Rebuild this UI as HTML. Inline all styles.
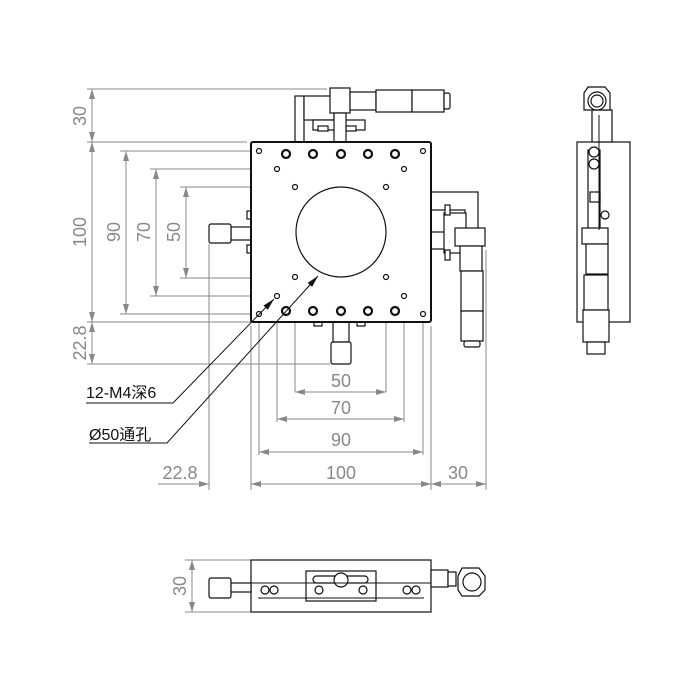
<!DOCTYPE html>
<html><head><meta charset="utf-8"><style>
html,body{margin:0;padding:0;background:#fff;}
svg{display:block;}
.d{stroke:#888;stroke-width:1;fill:none}
.t{font-family:"Liberation Sans","Noto Sans CJK SC",sans-serif;fill:#888;font-size:18px}
.k{stroke:#111;fill:#fff;stroke-width:1.2}
</style></head><body>
<svg width="700" height="700" viewBox="0 0 700 700" xmlns="http://www.w3.org/2000/svg">
<defs>
<marker id="a" viewBox="0 0 10 6" refX="10" refY="3" markerWidth="16" markerHeight="6" orient="auto-start-reverse" markerUnits="userSpaceOnUse"><path d="M0,0L10,3L0,6z" fill="#888"/></marker>
</defs>
<g class="d">
<line x1="87" y1="89" x2="327" y2="89"/>
<line x1="87" y1="142" x2="247" y2="142"/>
<line x1="120" y1="151" x2="255" y2="151"/>
<line x1="150" y1="169" x2="273" y2="169"/>
<line x1="180" y1="187" x2="291" y2="187"/>
<line x1="180" y1="278" x2="291" y2="278"/>
<line x1="150" y1="296" x2="273" y2="296"/>
<line x1="120" y1="314" x2="255" y2="314"/>
<line x1="87" y1="322" x2="251" y2="322"/>
<line x1="87" y1="364" x2="330" y2="364"/>
<line x1="92" y1="89" x2="92" y2="142" marker-start="url(#a)" marker-end="url(#a)"/>
<line x1="92" y1="142" x2="92" y2="322" marker-start="url(#a)" marker-end="url(#a)"/>
<line x1="92" y1="322" x2="92" y2="364" marker-start="url(#a)" marker-end="url(#a)"/>
<line x1="126" y1="151" x2="126" y2="314" marker-start="url(#a)" marker-end="url(#a)"/>
<line x1="156" y1="169" x2="156" y2="296" marker-start="url(#a)" marker-end="url(#a)"/>
<line x1="186" y1="187" x2="186" y2="278" marker-start="url(#a)" marker-end="url(#a)"/>
<line x1="209" y1="244" x2="209" y2="490"/>
<line x1="251" y1="326" x2="251" y2="490"/>
<line x1="259" y1="318" x2="259" y2="455"/>
<line x1="277" y1="300" x2="277" y2="422"/>
<line x1="295" y1="281" x2="295" y2="392"/>
<line x1="386" y1="281" x2="386" y2="392"/>
<line x1="404" y1="300" x2="404" y2="422"/>
<line x1="423" y1="318" x2="423" y2="455"/>
<line x1="431" y1="326" x2="431" y2="490"/>
<line x1="486" y1="250" x2="486" y2="490"/>
<line x1="295" y1="392" x2="386" y2="392" marker-start="url(#a)" marker-end="url(#a)"/>
<line x1="277" y1="419" x2="404" y2="419" marker-start="url(#a)" marker-end="url(#a)"/>
<line x1="259" y1="452" x2="423" y2="452" marker-start="url(#a)" marker-end="url(#a)"/>
<line x1="251" y1="484" x2="431" y2="484" marker-start="url(#a)" marker-end="url(#a)"/>
<line x1="431" y1="484" x2="486" y2="484" marker-start="url(#a)" marker-end="url(#a)"/>
<line x1="158" y1="484" x2="209" y2="484" marker-end="url(#a)"/>
<line x1="185" y1="560" x2="251" y2="560"/>
<line x1="185" y1="612" x2="251" y2="612"/>
<line x1="192" y1="560" x2="192" y2="612" marker-start="url(#a)" marker-end="url(#a)"/>
</g>
<g class="t">
<text transform="translate(86,116) rotate(-90)" text-anchor="middle">30</text>
<text transform="translate(86,232) rotate(-90)" text-anchor="middle">100</text>
<text transform="translate(120,232) rotate(-90)" text-anchor="middle">90</text>
<text transform="translate(150,232) rotate(-90)" text-anchor="middle">70</text>
<text transform="translate(180,232) rotate(-90)" text-anchor="middle">50</text>
<text transform="translate(86,343) rotate(-90)" text-anchor="middle">22.8</text>
<text x="341" y="387" text-anchor="middle">50</text>
<text x="341" y="414" text-anchor="middle">70</text>
<text x="341" y="446" text-anchor="middle">90</text>
<text x="341" y="479" text-anchor="middle">100</text>
<text x="458" y="479" text-anchor="middle">30</text>
<text x="180" y="479" text-anchor="middle">22.8</text>
<text transform="translate(186,586) rotate(-90)" text-anchor="middle">30</text>
</g>
<g font-family="Liberation Sans,Noto Sans CJK SC,sans-serif" font-size="16" fill="#111">
<text x="86" y="398">12-M4深6</text>
<text x="89" y="440">Ø50通孔</text>
</g>
<g class="k">
<rect x="295" y="96" width="9" height="46"/>
<rect x="304" y="96" width="30" height="24"/>
<rect x="313" y="120" width="52" height="10"/>
<rect x="318" y="126" width="10" height="5"/><rect x="346" y="126" width="10" height="5"/>
<rect x="330" y="88" width="20" height="25"/>
<rect x="334" y="113" width="12" height="29"/>
<rect x="350" y="92" width="26" height="18"/>
<rect x="376" y="90" width="36" height="22"/>
<rect x="412" y="90" width="32" height="22"/>
<rect x="444" y="93" width="6" height="16" rx="2"/>
</g>
<g class="k">
<rect x="231" y="227" width="20" height="13"/>
<rect x="209" y="224" width="22" height="19" rx="2"/>
<rect x="247" y="211" width="4" height="8"/><rect x="247" y="245" width="4" height="8"/>
<rect x="333" y="322" width="16" height="20"/>
<rect x="331" y="342" width="20" height="22" rx="2"/>
<rect x="314" y="322" width="8" height="4"/><rect x="357" y="322" width="8" height="4"/>
</g>
<g class="k">
<rect x="431" y="192" width="47" height="57"/>
<rect x="431" y="210" width="34" height="22"/>
<rect x="444" y="213" width="22" height="40"/>
<rect x="445" y="205" width="5" height="10"/><rect x="445" y="250" width="5" height="10"/>
<rect x="455" y="228" width="30" height="18"/>
<rect x="460" y="246" width="22" height="25"/>
<rect x="461" y="271" width="22" height="40"/>
<rect x="461" y="311" width="22" height="30"/>
<rect x="464" y="341" width="16" height="6" rx="2"/>
</g>
<rect x="251" y="142" width="180" height="180" rx="2" fill="#fff" stroke="#111" stroke-width="2"/>
<circle cx="341" cy="232" r="45" class="k"/>
<g class="k">
<circle cx="259" cy="151" r="2.5"/><circle cx="423" cy="151" r="2.5"/>
<circle cx="277" cy="169" r="2.5"/><circle cx="404" cy="169" r="2.5"/>
<circle cx="295" cy="187" r="2.5"/><circle cx="386" cy="187" r="2.5"/>
<circle cx="295" cy="277" r="2.5"/><circle cx="386" cy="277" r="2.5"/>
<circle cx="277" cy="296" r="2.5"/><circle cx="404" cy="296" r="2.5"/>
<circle cx="259" cy="314" r="2.5"/><circle cx="423" cy="314" r="2.5"/>
</g>
<g stroke="#111" stroke-width="2.2" fill="#fff">
<circle cx="286" cy="154" r="4"/><circle cx="313" cy="154" r="4"/><circle cx="341" cy="154" r="4"/><circle cx="368" cy="154" r="4"/><circle cx="395" cy="154" r="4"/>
<circle cx="286" cy="311" r="4"/><circle cx="313" cy="311" r="4"/><circle cx="341" cy="311" r="4"/><circle cx="368" cy="311" r="4"/><circle cx="395" cy="311" r="4"/>
</g>
<g stroke="#111" stroke-width="1" fill="none">
<polyline points="86,403 173,403 274,299"/>
<polyline points="89,443 167,443 318,276"/>
</g>
<polygon points="274,299 267.8,309.7 263.5,305.5" fill="#111"/>
<polygon points="318,276 312.1,286.9 307.7,282.9" fill="#111"/>
<g class="k">
<rect x="577" y="142" width="53" height="180"/>
<rect x="592" y="110" width="20" height="32"/>
<path d="M584,93 L588,87 L605,87 L610,93 L610,110 L584,110 Z"/>
<circle cx="597" cy="101" r="9"/><circle cx="597" cy="101" r="6"/>
<rect x="588" y="150" width="12" height="100"/>
<circle cx="594" cy="152" r="5"/><circle cx="594" cy="164" r="5"/>
<rect x="590" y="192" width="10" height="10"/>
<circle cx="605" cy="215" r="4"/>
<rect x="582" y="228" width="26" height="16"/>
<rect x="586" y="244" width="22" height="30"/>
<rect x="584" y="275" width="24" height="35"/>
<rect x="583" y="310" width="26" height="32"/>
<rect x="587" y="342" width="18" height="12"/>
</g>
<line x1="599" y1="115" x2="599" y2="230" stroke="#111" stroke-width="1"/>
<g class="k">
<rect x="251" y="560" width="180" height="52"/>
<rect x="209" y="578" width="22" height="20" rx="2"/>
<rect x="231" y="583" width="20" height="9"/>
<rect x="306" y="571" width="70" height="30"/>
<rect x="313" y="576" width="55" height="7" rx="3.5"/>
<circle cx="341" cy="580" r="7"/>
<circle cx="319" cy="590" r="4"/><circle cx="363" cy="590" r="4"/>
<circle cx="265" cy="590" r="4"/><circle cx="274" cy="590" r="4"/>
<circle cx="407" cy="590" r="4"/><circle cx="416" cy="590" r="4"/>
<rect x="431" y="570" width="17" height="17"/>
<rect x="448" y="572" width="8" height="14"/>
<path d="M458,576 L462,568 L479,568 L485,576 L485,590 L479,596 L462,596 L458,590 Z"/>
<circle cx="472" cy="582" r="9"/>
</g>
<g stroke="#111" stroke-width="1"><line x1="251" y1="583" x2="431" y2="583"/><line x1="258" y1="598" x2="424" y2="598"/></g>
</svg>
</body></html>
